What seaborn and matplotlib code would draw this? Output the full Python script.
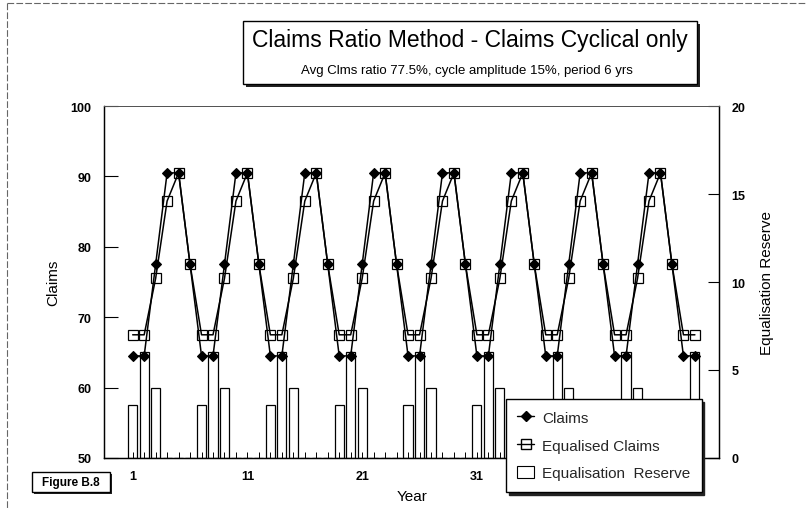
import matplotlib
matplotlib.use("Agg")
import matplotlib.pyplot as plt
import seaborn as sns
import pandas as pd
from matplotlib.patches import Rectangle, Patch
from matplotlib.lines import Line2D

# ---------------- data ----------------
years = list(range(1, 51))
claims = [64.5, 64.5, 77.5, 90.5, 90.5, 77.5,
          64.5, 64.5, 77.5, 90.5, 90.5, 77.5,
          64.5, 64.5, 77.5, 90.5, 90.5, 77.5,
          64.5, 64.5, 77.5, 90.5, 90.5, 77.5,
          64.5, 64.5, 77.5, 90.5, 90.5, 77.5,
          64.5, 64.5, 77.5, 90.5, 90.5, 77.5,
          64.5, 64.5, 77.5, 90.5, 90.5, 77.5,
          64.5, 64.5, 77.5, 90.5, 90.5, 77.5,
          64.5, 64.5]
equalised = [67.5, 67.5, 75.5, 86.5, 90.5, 77.5,
             67.5, 67.5, 75.5, 86.5, 90.5, 77.5,
             67.5, 67.5, 75.5, 86.5, 90.5, 77.5,
             67.5, 67.5, 75.5, 86.5, 90.5, 77.5,
             67.5, 67.5, 75.5, 86.5, 90.5, 77.5,
             67.5, 67.5, 75.5, 86.5, 90.5, 77.5,
             67.5, 67.5, 75.5, 86.5, 90.5, 77.5,
             67.5, 67.5, 75.5, 86.5, 90.5, 77.5,
             67.5, 67.5]
reserve = [3, 6, 4, 0, 0, 0,
           3, 6, 4, 0, 0, 0,
           3, 6, 4, 0, 0, 0,
           3, 6, 4, 0, 0, 0,
           3, 6, 4, 0, 0, 0,
           3, 6, 4, 0, 0, 0,
           3, 6, 4, 0, 0, 0,
           3, 6, 4, 0, 0, 0,
           3, 6]
left_ticks = [50, 60, 70, 80, 90, 100]
right_ticks = [0, 5, 10, 15, 20]
year_ticks = [1, 11, 21, 31, 41]
year_tick_labels = ["1", "11", "21", "31", ""]  # "41" is hidden under the legend

title = "Claims Ratio Method - Claims Cyclical only"
subtitle = "Avg Clms ratio 77.5%, cycle amplitude 15%, period 6 yrs"

# ---------------- figure ----------------
sns.set_theme(style="white")
plt.rcParams["font.family"] = ["Liberation Sans", "DejaVu Sans"]

W, H = 808, 510
fig = plt.figure(figsize=(W / 100, H / 100), dpi=100)


def fx(px):
    return px / W


def fy(py):
    return 1 - py / H


ax = fig.add_axes([fx(104), fy(459), fx(719) - fx(104), fy(107) - fy(459)])
ax2 = ax.twinx()

df = pd.DataFrame({"Year": years, "Claims": claims,
                   "Equalised": equalised, "Reserve": reserve})

sns.barplot(data=df, x="Year", y="Reserve", native_scale=True, ax=ax2,
            color="white", saturation=1, edgecolor="black", linewidth=0.9,
            width=0.8, errorbar=None)

sns.lineplot(data=df, x="Year", y="Equalised", ax=ax, color="black",
             marker="s", markersize=7.5, markerfacecolor="none",
             markeredgecolor="black", markeredgewidth=0.9, linewidth=1.1)
sns.lineplot(data=df, x="Year", y="Claims", ax=ax, color="black",
             marker="D", markersize=5, markerfacecolor="black",
             markeredgecolor="black", markeredgewidth=0.8, linewidth=1.1)

ax.set_zorder(ax2.get_zorder() + 1)
ax.patch.set_visible(False)

ax.set_xlim(-1.5, 52.1)
ax.set_ylim(50, 100)
ax2.set_ylim(0, 20)

ax.set_yticks(left_ticks)
ax2.set_yticks(right_ticks)
ax.set_xticks(year_ticks)
ax.set_xticklabels(year_tick_labels)
ax.set_xticks(years, minor=True)

ax.tick_params(axis="y", direction="in", length=10, width=0.8, pad=9,
               labelsize=9, colors="black", left=True)
ax2.tick_params(axis="y", direction="in", length=8, width=0.8, pad=9,
                labelsize=9, colors="black", right=True)
ax.tick_params(axis="x", which="both", direction="in", length=4, width=0.7,
               pad=9, labelsize=9, colors="black", bottom=True)
for lab in ax.get_yticklabels() + ax2.get_yticklabels() + ax.get_xticklabels():
    lab.set_fontweight("bold")

ax.set_xlabel("")
ax.set_ylabel("")
ax2.set_ylabel("")
ax2.set_xlabel("")

for a in (ax, ax2):
    for s in a.spines.values():
        s.set_color("black")
        s.set_linewidth(0.9)
    a.spines["top"].set_color("#555555")
    a.spines["top"].set_linewidth(0.7)

# axis titles
fig.text(fx(53), fy(283), "Claims", rotation=90, ha="center", va="center",
         fontsize=11, color="black")
fig.text(fx(767), fy(283), "Equalisation Reserve", rotation=90, ha="center",
         va="center", fontsize=11, color="black")
fig.text(fx(412), fy(497), "Year", ha="center", va="center", fontsize=11,
         color="black")


# boxes with drop shadow
def shadow_box(x0, y0, x1, y1, off=3, lw=1.0):
    sh = Rectangle((fx(x0 + off), fy(y1 + off)), fx(x1) - fx(x0),
                   fy(y0) - fy(y1), transform=fig.transFigure,
                   facecolor="#222222", edgecolor="none", zorder=5)
    bx = Rectangle((fx(x0), fy(y1)), fx(x1) - fx(x0), fy(y0) - fy(y1),
                   transform=fig.transFigure, facecolor="white",
                   edgecolor="black", linewidth=lw, zorder=6)
    fig.patches.extend([sh, bx])


shadow_box(243, 22, 697, 85)
fig.text(fx(470), fy(41), title, ha="center", va="center", fontsize=16.5,
         color="black", zorder=7)
fig.text(fx(467), fy(71), subtitle, ha="center", va="center", fontsize=9.5,
         color="black", zorder=7)

shadow_box(32, 473, 110, 493, off=2)
fig.text(fx(71), fy(483), "Figure B.8", ha="center", va="center",
         fontsize=8.5, fontweight="bold", color="black", zorder=7)

# figure frame (scanned page border)
fig.add_artist(Line2D([fx(7), fx(806)], [fy(4), fy(4)], transform=fig.transFigure,
                      color="#666666", linewidth=0.8, linestyle=(0, (6, 2))))
fig.add_artist(Line2D([fx(7), fx(7)], [fy(4), fy(510)], transform=fig.transFigure,
                      color="#666666", linewidth=0.8, linestyle=(0, (6, 2))))

# legend
handles = [
    Line2D([], [], color="black", marker="D", markersize=5, linewidth=1.0),
    Line2D([], [], color="black", marker="s", markersize=7.5,
           markerfacecolor="none", linewidth=1.0),
    Patch(facecolor="white", edgecolor="black", linewidth=0.8),
]
labels = ["Claims", "Equalised Claims", "Equalisation  Reserve"]
leg = fig.legend(handles, labels, loc="upper left",
                 bbox_to_anchor=(fx(506), fy(400)), bbox_transform=fig.transFigure,
                 frameon=True, fancybox=False,
                 shadow={"color": "#222222", "alpha": 1.0},
                 fontsize=11, labelspacing=0.9, handlelength=1.1,
                 handleheight=0.8, handletextpad=0.5, borderpad=0.75,
                 borderaxespad=0)
leg.get_frame().set_edgecolor("black")
leg.get_frame().set_linewidth(1.0)
leg.set_zorder(10)

fig.savefig("out.png", dpi=100, facecolor="white")
